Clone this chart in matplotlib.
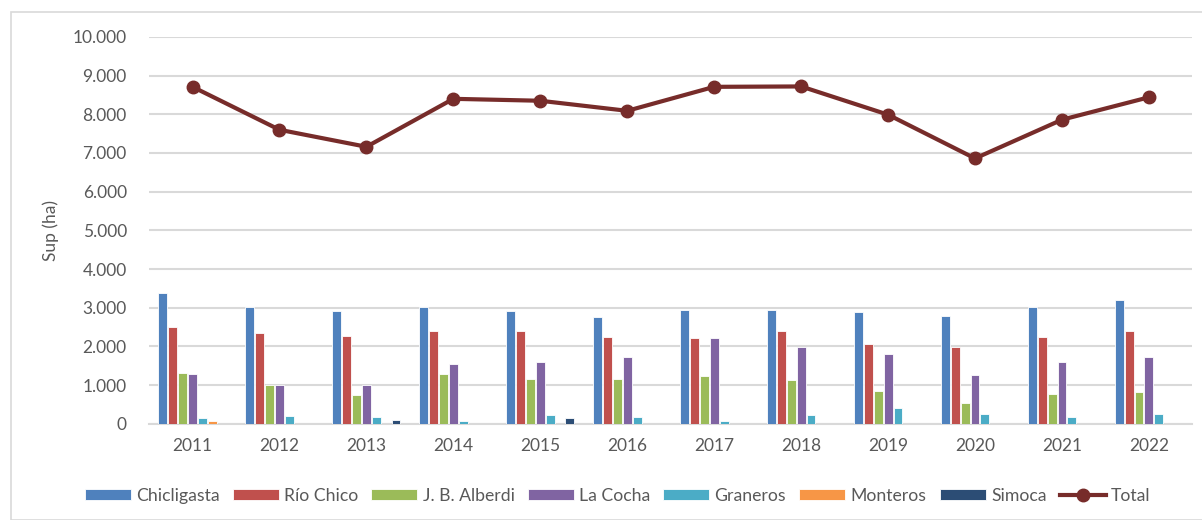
import matplotlib
matplotlib.use("Agg")
import matplotlib.pyplot as plt
import numpy as np
from matplotlib.patches import Rectangle
from matplotlib.ticker import FuncFormatter

plt.rcParams["font.family"] = ["Lato", "DejaVu Sans"]

years = ["2011", "2012", "2013", "2014", "2015", "2016",
         "2017", "2018", "2019", "2020", "2021", "2022"]

# superficie por departamento (ha)
chicligasta = [3370, 3010, 2920, 3030, 2920, 2750, 2950, 2950, 2890, 2780, 3030, 3200]
rio_chico = [2500, 2340, 2280, 2410, 2390, 2250, 2220, 2410, 2050, 1990, 2250, 2390]
jb_alberdi = [1320, 1010, 740, 1300, 1160, 1160, 1240, 1130, 850, 540, 760, 820]
la_cocha = [1300, 990, 1010, 1550, 1610, 1720, 2220, 1980, 1800, 1270, 1610, 1720]
graneros = [150, 200, 180, 60, 230, 180, 60, 230, 400, 260, 180, 260]
monteros = [70, 0, 0, 0, 0, 0, 0, 0, 0, 0, 0, 0]
simoca = [0, 0, 90, 0, 150, 0, 0, 0, 0, 0, 0, 0]
total = [8710, 7600, 7160, 8400, 8350, 8090, 8710, 8720, 7990, 6860, 7860, 8440]

series = [
    ("Chicligasta", chicligasta, "#4F81BD"),
    ("Río Chico", rio_chico, "#C0504D"),
    ("J. B. Alberdi", jb_alberdi, "#9BBB59"),
    ("La Cocha", la_cocha, "#8064A2"),
    ("Graneros", graneros, "#4BACC6"),
    ("Monteros", monteros, "#F79646"),
    ("Simoca", simoca, "#2C4D75"),
]

fig = plt.figure(figsize=(12.02, 5.2), dpi=100)
ax = fig.add_axes([0.124, 0.185, 0.868, 0.744])

# borde del gráfico
fig.patches.append(Rectangle((11 / 1202, 0.0), 1.2, 1 - 12 / 520, transform=fig.transFigure,
                             fill=False, edgecolor="#d9d9d9", linewidth=1.2))

x = np.arange(len(years))
slot = 0.795 / len(series)
for i, (name, vals, color) in enumerate(series):
    offs = (i - (len(series) - 1) / 2) * slot
    ax.bar(x + offs, vals, width=slot * 0.9, color=color, edgecolor="white",
           linewidth=0.6, label=name, zorder=3)

ax.plot(x, total, color="#772C2A", linewidth=3, marker="o", markersize=9,
        label="Total", zorder=4)

ax.set_xlim(-0.5, len(years) - 0.5)
ax.set_ylim(0, 10000)
ax.set_yticks(np.arange(0, 10001, 1000))
ax.yaxis.set_major_formatter(FuncFormatter(lambda v, p: f"{int(v):,}".replace(",", ".")))
ax.set_xticks(x)
ax.set_xticklabels(years)
ax.grid(axis="y", color="#d9d9d9", linewidth=1.5, zorder=0)
for s in ["top", "right", "left"]:
    ax.spines[s].set_visible(False)
ax.spines["bottom"].set_color("#d9d9d9")
ax.spines["bottom"].set_linewidth(1.5)
ax.tick_params(axis="both", length=0, labelsize=12.5, colors="#595959")
ax.tick_params(axis="x", pad=10)
ax.tick_params(axis="y", pad=16)
ax.set_ylabel("Sup (ha)", fontsize=12.5, color="#595959", labelpad=10)

handles, labels = ax.get_legend_handles_labels()
# Total al final, como en la leyenda original
handles = handles[1:] + handles[:1]
labels = labels[1:] + labels[:1]
ax.legend(handles, labels, loc="upper center", bbox_to_anchor=(0.449, -0.125), ncol=8,
          frameon=False, fontsize=12.7, handlelength=2.6, handleheight=0.6,
          handletextpad=0.3, columnspacing=0.75, labelcolor="#595959")

fig.savefig("out.png", dpi=100)
